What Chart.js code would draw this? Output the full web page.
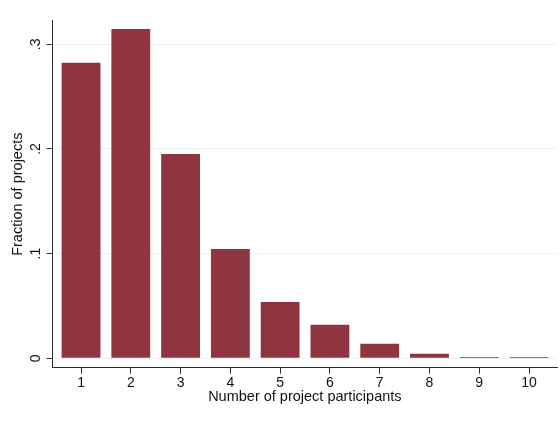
<!DOCTYPE html>
<html>
<head>
<meta charset="utf-8">
<script src="https://cdn.jsdelivr.net/npm/chart.js@4.4.1/dist/chart.umd.min.js"></script>
<style>
  html, body { margin: 0; padding: 0; background: #ffffff; }
  #wrap { width: 560px; height: 423px; }
</style>
</head>
<body>
<div id="wrap"><canvas id="c" width="560" height="423"></canvas></div>
<script>
// Number of participants per project and the share of projects at each size
const participants = [1, 2, 3, 4, 5, 6, 7, 8, 9, 10];
const fractions = [0.2824, 0.3146, 0.1952, 0.1044, 0.0538, 0.0321, 0.0139, 0.0044, 0.0012, 0.0013];
const yTickValues = [0, 0.1, 0.2, 0.3];
const yTickLabels = ['0', '.1', '.2', '.3'];

const barColor = '#8f353f';
const axisColor = '#2b2b2b';
const gridColor = '#e9f1f2';
const family = '"Liberation Sans", Arial, Helvetica, sans-serif';
const tickFont = { family: family, size: 14 };
const titleFont = { family: family, size: 14.5 };

new Chart(document.getElementById('c'), {
  type: 'bar',
  data: {
    datasets: [{
      data: participants.map((p, i) => ({ x: p, y: fractions[i] })),
      backgroundColor: barColor,
      borderWidth: 0,
      barPercentage: 0.78,
      categoryPercentage: 1.0
    }]
  },
  options: {
    responsive: false,
    animation: false,
    layout: { padding: { left: 0, top: 20.7, right: 3, bottom: 0 } },
    plugins: { legend: { display: false }, tooltip: { enabled: false } },
    scales: {
      x: {
        type: 'linear',
        offset: false,
        min: 0.431,
        max: 10.562,
        afterBuildTicks: s => { s.ticks = participants.map(v => ({ value: v })); },
        afterFit: s => { s.height = 55.3; },
        grid: { offset: false, drawOnChartArea: false, tickLength: 6, tickColor: axisColor, tickWidth: 1 },
        border: { display: true, color: axisColor, width: 1 },
        ticks: { color: '#111', font: tickFont, padding: 1, maxRotation: 0, minRotation: 0,
                 callback: v => String(v) },
        title: { display: true, text: 'Number of project participants', color: '#111',
                 font: titleFont, padding: { top: 0, bottom: 17.6 } }
      },
      y: {
        min: -0.00898,
        max: 0.32254,
        afterBuildTicks: s => { s.ticks = yTickValues.map(v => ({ value: v })); },
        afterFit: s => { s.width = 52.7; },
        grid: { color: gridColor, lineWidth: 1, tickLength: 6, tickColor: axisColor, tickWidth: 1 },
        border: { display: true, color: axisColor, width: 1 },
        ticks: { color: '#111', font: tickFont, padding: 4.5, minRotation: 90, maxRotation: 90,
                 crossAlign: 'center',
                 callback: v => yTickLabels[yTickValues.indexOf(Math.round(v * 10) / 10)] },
        title: { display: true, text: 'Fraction of projects', color: '#111',
                 font: titleFont, padding: { top: 9, bottom: 0 } }
      }
    }
  }
});
</script>
</body>
</html>
